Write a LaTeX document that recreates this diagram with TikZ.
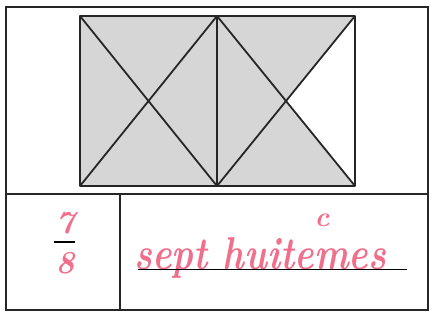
\documentclass[tikz,border=0pt]{standalone}
\usepackage{fontspec}
\usepackage{graphicx}
\definecolor{pinkink}{RGB}{240,112,140}
\definecolor{stipple}{RGB}{214,214,214}
\tikzset{
  frame/.style={draw=black!85, line width=1.4pt},
  grid/.style={draw=black!85, line width=1.8pt, line join=round},
  ink/.style={text=pinkink, inner sep=0pt},
}
\begin{document}
\begin{tikzpicture}[x=1pt,y=-1pt]
\useasboundingbox (0,0) rectangle (438,327);
% coordinates
\coordinate (OTL) at (6,7);
\coordinate (OBR) at (428,310);
\coordinate (HL) at (6,194);
\coordinate (HR) at (428,194);
\coordinate (VT) at (120,194);
\coordinate (VB) at (120,310);
\coordinate (A) at (80,16);
\coordinate (B) at (217,16);
\coordinate (C) at (355,16);
\coordinate (D) at (80,186);
\coordinate (E) at (217,186);
\coordinate (F) at (355,186);
\coordinate (M1) at (148.5,101);
\coordinate (M2) at (286,101);
% stippled fill: 7 of 8 triangles
\fill[stipple] (A) -- (C) -- (M2) -- (F) -- (D) -- cycle;
% grid lines
\draw[grid] (A) rectangle (F);
\draw[grid] (B) -- (E);
\draw[grid] (A) -- (E) (B) -- (D);
\draw[grid] (B) -- (F) (C) -- (E);
% outer frame
\draw[frame] (OTL) rectangle (OBR);
\draw[frame] (HL) -- (HR);
\draw[frame] (VT) -- (VB);
% fraction
\node[ink, font=\bfseries\itshape\fontsize{32}{32}\selectfont] (num) at (65,223) {7};
\node[ink, font=\bfseries\itshape\fontsize{32}{32}\selectfont] (den) at (65,263) {8};
\coordinate (barL) at (54,242);
\coordinate (barR) at (75,242);
\draw[black, line width=1.5pt] (barL) -- (barR);
% words
\node[ink, anchor=base west] (words) at (134,269) {\resizebox{252pt}{32pt}{\bfseries\itshape sept huitemes}};
\node[ink, font=\bfseries\itshape\fontsize{28}{28}\selectfont] (acc) at (322,220) {c};
\coordinate (ulL) at (138,269.5);
\coordinate (ulR) at (407,269.5);
\draw[black, line width=1.5pt] (ulL) -- (ulR);
\end{tikzpicture}
\end{document}
